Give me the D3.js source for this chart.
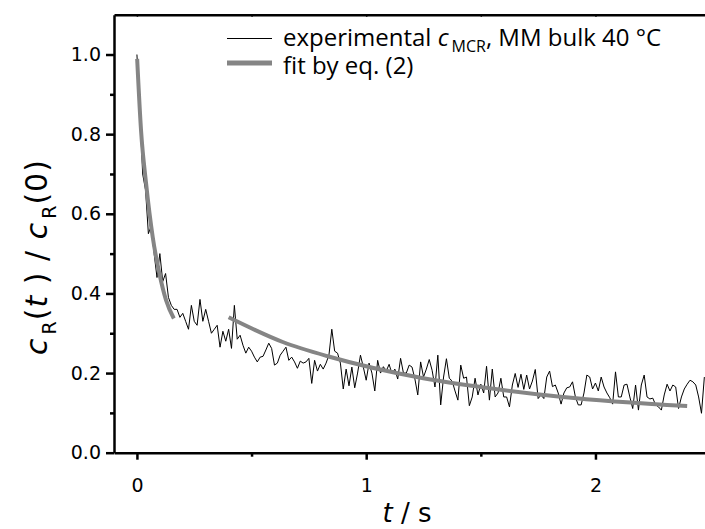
<!DOCTYPE html>
<html>
<head>
<meta charset="utf-8">
<script src="https://cdn.jsdelivr.net/npm/d3@7"></script>
<style>
  body { margin: 0; background: #fff; }
  svg { display: block; }
</style>
</head>
<body>
<div id="chart"></div>
<script>
// experimental trace, sampled every expStep seconds from t = 0
const expStep = 0.0125;
const expValues = [
  1.00, 0.86, 0.70, 0.66, 0.55, 0.57, 0.50, 0.44, 0.50, 0.43,
  0.45, 0.39, 0.37, 0.36, 0.36, 0.34, 0.35, 0.33, 0.31, 0.37,
  0.33, 0.32, 0.385, 0.33, 0.36, 0.33, 0.30, 0.31, 0.32, 0.265,
  0.305, 0.28, 0.31, 0.262, 0.37, 0.285, 0.295, 0.27, 0.25, 0.265,
  0.255, 0.24, 0.228, 0.24, 0.242, 0.258, 0.275, 0.262, 0.22, 0.225,
  0.245, 0.255, 0.265, 0.232, 0.24, 0.228, 0.212, 0.23, 0.225, 0.228,
  0.237, 0.174, 0.232, 0.205, 0.222, 0.21, 0.225, 0.245, 0.31, 0.255,
  0.25, 0.225, 0.16, 0.21, 0.168, 0.215, 0.163, 0.20, 0.245, 0.215,
  0.182, 0.225, 0.20, 0.155, 0.232, 0.20, 0.216, 0.205, 0.222, 0.198,
  0.21, 0.185, 0.237, 0.20, 0.20, 0.22, 0.215, 0.185, 0.145, 0.228,
  0.19, 0.21, 0.234, 0.207, 0.165, 0.245, 0.12, 0.19, 0.236, 0.187,
  0.18, 0.155, 0.132, 0.22, 0.187, 0.19, 0.118, 0.14, 0.187, 0.145,
  0.172, 0.15, 0.217, 0.132, 0.21, 0.14, 0.15, 0.187, 0.14, 0.14,
  0.115, 0.17, 0.199, 0.164, 0.197, 0.159, 0.195, 0.16, 0.18, 0.209,
  0.136, 0.145, 0.136, 0.19, 0.205, 0.166, 0.17, 0.15, 0.122, 0.15,
  0.163, 0.165, 0.178, 0.14, 0.12, 0.12, 0.15, 0.195, 0.19, 0.16,
  0.175, 0.155, 0.19, 0.165, 0.15, 0.138, 0.122, 0.203, 0.14, 0.14,
  0.17, 0.172, 0.14, 0.111, 0.17, 0.107, 0.17, 0.195, 0.14, 0.135,
  0.137, 0.12, 0.115, 0.107, 0.145, 0.172, 0.155, 0.17, 0.165, 0.111,
  0.14, 0.16, 0.172, 0.182, 0.178, 0.17, 0.14, 0.099, 0.19
];

// fit by eq. (2), two pieces
const fitEarlyT = [0.001, 0.018, 0.040, 0.069, 0.098, 0.127, 0.161];
const fitEarlyY = [0.989, 0.809, 0.676, 0.541, 0.450, 0.383, 0.337];
const fitLateT = [0.40, 0.636, 0.84, 1.232, 1.5, 1.858, 2.40];
const fitLateY = [0.34, 0.278, 0.241, 0.189, 0.165, 0.140, 0.117];

const xTicks = [0, 1, 2];
const xMinorTicks = [0.5, 1.5];
const yTicks = [0.0, 0.2, 0.4, 0.6, 0.8, 1.0];
const yMinorTicks = [0.1, 0.3, 0.5, 0.7, 0.9];

const width = 705, height = 529;
const plot = {left: 114, right: 705.5, top: 14.7, bottom: 452.7};

const svg = d3.select("#chart").append("svg")
    .attr("width", width)
    .attr("height", height);

const x = d3.scaleLinear()
    .domain([-0.1, 2.48])
    .range([plot.left, plot.right]);

const y = d3.scaleLinear()
    .domain([0, 1.1])
    .range([plot.bottom, plot.top]);

const expData = expValues.map((v, i) => ({t: i * expStep, v: v}));
const fitEarly = fitEarlyT.map((t, i) => ({t: t, v: fitEarlyY[i]}));
const fitLate = fitLateT.map((t, i) => ({t: t, v: fitLateY[i]}));

svg.append("defs").append("clipPath")
    .attr("id", "clip")
    .append("rect")
    .attr("x", plot.left)
    .attr("y", plot.top)
    .attr("width", plot.right - plot.left)
    .attr("height", plot.bottom - plot.top);

const lines = svg.append("g").attr("clip-path", "url(#clip)");

const expLine = d3.line()
    .x(d => x(d.t))
    .y(d => y(d.v));

const fitLine = d3.line()
    .x(d => x(d.t))
    .y(d => y(d.v))
    .curve(d3.curveMonotoneX);

lines.append("path")
    .datum(expData)
    .attr("fill", "none")
    .attr("stroke", "#000")
    .attr("stroke-width", 1)
    .attr("d", expLine);

[fitEarly, fitLate].forEach(seg => {
    lines.append("path")
        .datum(seg)
        .attr("fill", "none")
        .attr("stroke", "#858585")
        .attr("stroke-width", 4)
        .attr("d", fitLine);
});

// axes
const xAxis = svg.append("g")
    .attr("transform", `translate(0,${plot.bottom})`)
    .call(d3.axisBottom(x).tickValues(xTicks).tickSize(7).tickSizeOuter(0).tickPadding(19)
        .tickFormat(d3.format("d")));
xAxis.select(".domain").attr("stroke-width", 2.5);
xAxis.selectAll(".tick line").attr("stroke-width", 2.5);
xAxis.selectAll("text")
    .style("font-family", "'DejaVu Sans', sans-serif")
    .style("font-size", "19px")
    .attr("fill", "#000");

svg.append("g")
    .attr("transform", `translate(0,${plot.bottom})`)
    .call(d3.axisBottom(x).tickValues(xMinorTicks).tickSize(4).tickFormat(""))
    .call(g => g.select(".domain").remove())
    .selectAll(".tick line").attr("stroke-width", 2.5);

const yAxis = svg.append("g")
    .attr("transform", `translate(${plot.left},0)`)
    .call(d3.axisLeft(y).tickValues(yTicks).tickSize(8).tickSizeOuter(0).tickPadding(5)
        .tickFormat(d3.format(".1f")));
yAxis.select(".domain").attr("stroke-width", 2.5);
yAxis.selectAll(".tick line").attr("stroke-width", 2.5);
yAxis.selectAll("text")
    .style("font-family", "'DejaVu Sans', sans-serif")
    .style("font-size", "19px")
    .attr("fill", "#000");

svg.append("g")
    .attr("transform", `translate(${plot.left},0)`)
    .call(d3.axisLeft(y).tickValues(yMinorTicks).tickSize(4).tickFormat(""))
    .call(g => g.select(".domain").remove())
    .selectAll(".tick line").attr("stroke-width", 2.5);

// top frame line with small inward ticks
const topAxis = svg.append("g")
    .attr("transform", `translate(0,${plot.top})`)
    .call(d3.axisBottom(x).tickValues(xTicks.concat(xMinorTicks)).tickSize(2).tickSizeOuter(0).tickFormat(""));
topAxis.select(".domain").attr("stroke-width", 2.5);
topAxis.selectAll(".tick line").attr("stroke-width", 1.5);

// axis titles
const xTitle = svg.append("text")
    .attr("x", 407)
    .attr("y", 522)
    .attr("text-anchor", "middle")
    .style("font-family", "'DejaVu Sans', sans-serif")
    .style("font-size", "26px");
xTitle.append("tspan").style("font-style", "italic").text("t");
xTitle.append("tspan").text(" / s");

const yTitle = svg.append("text")
    .attr("transform", "translate(47,257) rotate(-90)")
    .attr("text-anchor", "middle")
    .style("font-family", "'DejaVu Sans', sans-serif")
    .style("font-size", "30px")
    .style("letter-spacing", "1px");
yTitle.append("tspan").style("font-style", "italic").text("c");
yTitle.append("tspan").attr("dy", 9).attr("dx", 3).style("font-size", "19px").text("R");
yTitle.append("tspan").attr("dy", -9).text("(");
yTitle.append("tspan").style("font-style", "italic").text("t");
yTitle.append("tspan").text(" )  / ");
yTitle.append("tspan").style("font-style", "italic").text("c");
yTitle.append("tspan").attr("dy", 9).attr("dx", 3).style("font-size", "19px").text("R");
yTitle.append("tspan").attr("dy", -9).text("(0)");

// legend
const legend = svg.append("g")
    .style("font-family", "'Open Sans', sans-serif")
    .style("font-size", "24px");

legend.append("line")
    .attr("x1", 227).attr("x2", 272)
    .attr("y1", 38.5).attr("y2", 38.5)
    .attr("stroke", "#000").attr("stroke-width", 1);

const leg1 = legend.append("text")
    .attr("x", 283).attr("y", 46);
leg1.append("tspan").text("experimental ");
leg1.append("tspan").style("font-style", "italic").text("c");
leg1.append("tspan").attr("dy", 6).attr("dx", 3).style("font-size", "16px").text("MCR");
leg1.append("tspan").attr("dy", -6).text(", MM bulk 40 °C");

legend.append("line")
    .attr("x1", 227).attr("x2", 272)
    .attr("y1", 63).attr("y2", 63)
    .attr("stroke", "#858585").attr("stroke-width", 5);

legend.append("text")
    .attr("x", 283).attr("y", 74)
    .text("fit by eq. (2)");
</script>
</body>
</html>
